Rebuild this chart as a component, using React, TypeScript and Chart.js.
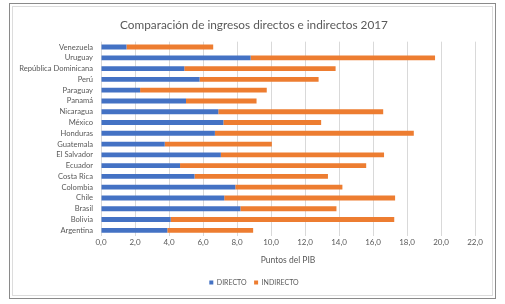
import React, { useEffect, useRef } from "react";
import { Chart, registerables } from "chart.js";

Chart.register(...registerables);

const categories = [
  "Venezuela", "Uruguay", "República Dominicana", "Perú", "Paraguay", "Panamá",
  "Nicaragua", "México", "Honduras", "Guatemala", "El Salvador", "Ecuador",
  "Costa Rica", "Colombia", "Chile", "Brasil", "Bolivia", "Argentina",
];
const directo = [1.5, 8.8, 4.9, 5.8, 2.3, 5.0, 6.9, 7.2, 6.7, 3.75, 7.05, 4.65, 5.5, 7.9, 7.25, 8.2, 4.1, 3.9];
const indirecto = [5.1, 10.85, 8.9, 7.0, 7.45, 4.15, 9.7, 5.75, 11.7, 6.3, 9.6, 10.95, 7.85, 6.3, 10.05, 5.65, 13.15, 5.05];
const xTicksMax = 22;

const TEXT = "#595959";
const FONT = "Lato";

const framePlugin = {
  id: "frame",
  beforeDraw(chart: any) {
    const { ctx, width, height } = chart;
    ctx.save();
    ctx.fillStyle = "#ffffff";
    ctx.fillRect(0, 0, width, height);
    ctx.strokeStyle = "#8a8a8a";
    ctx.lineWidth = 1;
    ctx.strokeRect(9.5, 3.5, 486, 295);
    ctx.strokeStyle = "#dcdcdc";
    ctx.strokeRect(12.5, 6.5, 480, 289);
    ctx.restore();
  },
};

export default function App() {
  const ref = useRef<HTMLCanvasElement>(null);
  useEffect(() => {
    const chart = new Chart(ref.current!, {
      type: "bar",
      data: {
        labels: categories,
        datasets: [
          { label: "DIRECTO", data: directo, backgroundColor: "#4472C4", barPercentage: 0.45, categoryPercentage: 1 },
          { label: "INDIRECTO", data: indirecto, backgroundColor: "#ED7D31", barPercentage: 0.45, categoryPercentage: 1 },
        ],
      },
      options: {
        indexAxis: "y",
        responsive: false,
        animation: false,
        layout: { padding: { left: 12, right: 9, top: 8, bottom: 8 } },
        plugins: {
          title: {
            display: true,
            text: "Comparación de ingresos directos e indirectos 2017",
            color: TEXT,
            font: { family: FONT, size: 11.8, weight: "normal" },
            padding: { top: 10, bottom: 9.5 },
          },
          legend: {
            position: "bottom",
            labels: {
              color: TEXT,
              font: { family: FONT, size: 7 },
              boxWidth: 4,
              boxHeight: 4,
              padding: 7.5,
            },
          },
          tooltip: { enabled: false },
        },
        scales: {
          x: {
            stacked: true,
            min: 0,
            max: xTicksMax,
            ticks: {
              stepSize: 2,
              color: TEXT,
              font: { family: FONT, size: 8 },
              padding: 2,
              callback: (v: any) => Number(v).toFixed(1).replace(".", ","),
            },
            grid: { color: "#d9d9d9", drawTicks: false },
            border: { display: false },
            title: {
              display: true,
              text: "Puntos del PIB",
              color: TEXT,
              font: { family: FONT, size: 8.5 },
              padding: { top: 5.4, bottom: 6.6 },
            },
          },
          y: {
            stacked: true,
            ticks: { color: TEXT, font: { family: FONT, size: 7.6 }, padding: 8, autoSkip: false },
            grid: { display: false, drawTicks: false },
            border: { display: false },
            afterFit: (scale: any) => {
              scale.width = 89;
            },
          },
          yRight: {
            type: "category",
            position: "right",
            display: true,
            ticks: { display: false },
            grid: { display: false, drawTicks: false },
            border: { display: false },
            afterFit: (scale: any) => {
              scale.width = 21;
            },
          },
        },
      },
      plugins: [framePlugin],
    });
    return () => chart.destroy();
  }, []);
  return (
    <div style={{ position: "fixed", left: 0, top: 0 }}>
      <canvas ref={ref} width={505} height={304} style={{ display: "block", width: 505, height: 304 }} />
    </div>
  );
}
